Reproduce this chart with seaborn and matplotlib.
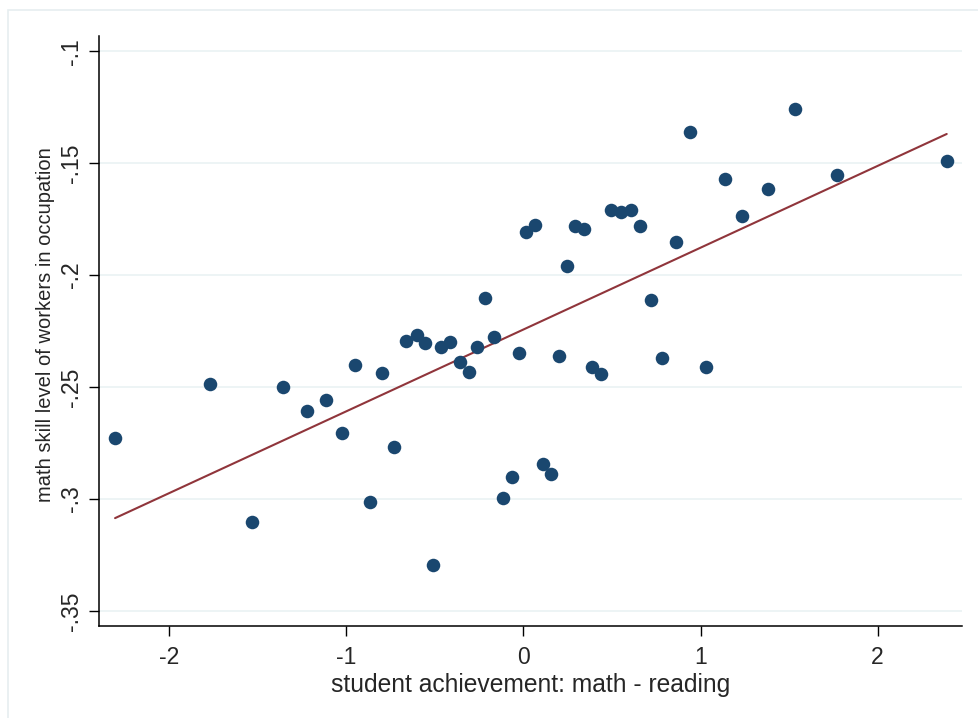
import numpy as np
import pandas as pd
import matplotlib
matplotlib.use("Agg")
import matplotlib.pyplot as plt
import seaborn as sns
from matplotlib.patches import Rectangle

# values
math_minus_reading = [
    -2.306, -1.770, -1.531, -1.360, -1.221, -1.117, -1.027, -0.951, -0.867, -0.801,
    -0.731, -0.665, -0.601, -0.554, -0.511, -0.466, -0.415, -0.358, -0.309, -0.264,
    -0.217, -0.167, -0.116, -0.067, -0.024, 0.014, 0.063, 0.112, 0.154, 0.200,
    0.247, 0.292, 0.343, 0.387, 0.439, 0.494, 0.551, 0.607, 0.660, 0.718,
    0.780, 0.859, 0.938, 1.029, 1.138, 1.235, 1.379, 1.535, 1.768, 2.390,
]
math_skill = [
    -0.2729, -0.2488, -0.3101, -0.2498, -0.2607, -0.2559, -0.2705, -0.2402, -0.3013, -0.2436,
    -0.2768, -0.2296, -0.2265, -0.2304, -0.3295, -0.2323, -0.2297, -0.2390, -0.2432, -0.2320,
    -0.2104, -0.2274, -0.2996, -0.2900, -0.2348, -0.1809, -0.1778, -0.2845, -0.2890, -0.2360,
    -0.1958, -0.1781, -0.1793, -0.2409, -0.2442, -0.1710, -0.1717, -0.1711, -0.1781, -0.2113,
    -0.2369, -0.1854, -0.1362, -0.2408, -0.1571, -0.1734, -0.1616, -0.1258, -0.1552, -0.1490,
]
x_ticks = [-2, -1, 0, 1, 2]
x_tick_labels = ["-2", "-1", "0", "1", "2"]
y_ticks = [-0.1, -0.15, -0.2, -0.25, -0.3, -0.35]
y_tick_labels = ["-.1", "-.15", "-.2", "-.25", "-.3", "-.35"]

df = pd.DataFrame({"diff": math_minus_reading, "skill": math_skill})

sns.set_theme(style="white")
plt.rcParams['font.family'] = ['Liberation Sans', 'DejaVu Sans']

fig = plt.figure(figsize=(9.79, 7.18), dpi=100)
fig.patch.set_facecolor("white")

# light outer frame like the Stata graph region
fig.patches.append(Rectangle((8 / 979, -0.2), 1.2, 1.2 - 10 / 718,
                             transform=fig.transFigure, fill=False,
                             edgecolor="#e6eef0", lw=1.2, zorder=0))

ax = fig.add_axes([99.3 / 979, 1 - 626.3 / 718, 863 / 979, 590.6 / 718])

for yt in y_ticks:
    ax.axhline(yt, color="#eaf2f3", lw=1.2, zorder=0)

sns.regplot(data=df, x="diff", y="skill", ax=ax, ci=None,
            scatter_kws={"s": 95, "color": "#1a476f", "alpha": 1, "linewidths": 0, "zorder": 3},
            line_kws={"color": "#90353b", "lw": 1.5, "zorder": 2})

ax.set_xlim(-2.395, 2.478)
ax.set_ylim(-0.35684, -0.09303)

ax.set_xticks(x_ticks)
ax.set_xticklabels(x_tick_labels, fontsize=16.5)
ax.set_yticks(y_ticks)
ax.set_yticklabels(y_tick_labels, fontsize=16.5, rotation=90, va="center")

ax.tick_params(axis="x", direction="out", length=7, width=1, color="black",
               bottom=True, pad=7)
ax.tick_params(axis="y", direction="out", length=7, width=1, color="black",
               left=True, pad=5)

for side in ["top", "right"]:
    ax.spines[side].set_visible(False)
for side in ["left", "bottom"]:
    ax.spines[side].set_color("black")
    ax.spines[side].set_linewidth(1.1)

ax.set_xlabel("student achievement: math - reading", fontsize=17.7, labelpad=3)
ax.set_ylabel("math skill level of workers in occupation", fontsize=14.5, labelpad=3)
ax.yaxis.label.set_y(0.511)

fig.savefig("out.png", dpi=100, facecolor="white")
